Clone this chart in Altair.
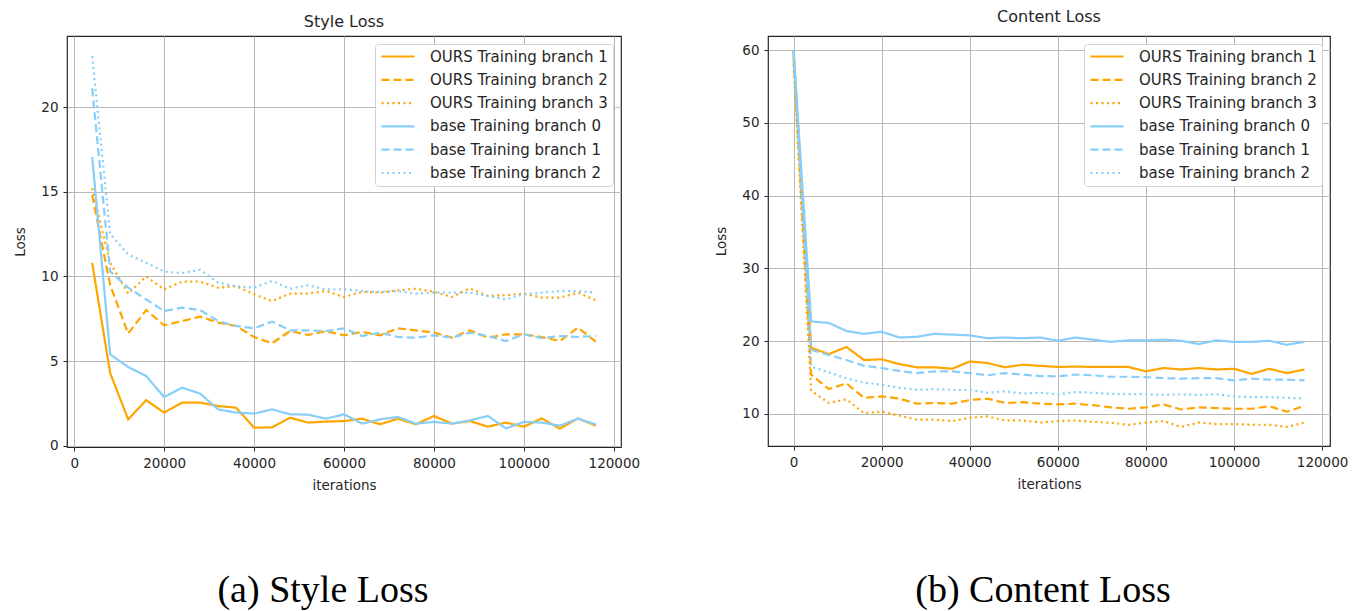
import altair as alt
import pandas as pd

# ---------------- data ----------------
SERIES = [
    "OURS Training branch 1",
    "OURS Training branch 2",
    "OURS Training branch 3",
    "base Training branch 0",
    "base Training branch 1",
    "base Training branch 2",
]
COLORS = ["#FFA500", "#FFA500", "#FFA500", "#87CEFA", "#87CEFA", "#87CEFA"]
DASHES = [[1, 0], [8, 4], [2, 3.5], [1, 0], [8, 4], [2, 3.5]]

style_iters = [4000, 8000, 12000, 16000, 20000, 24000, 28000, 32000, 36000, 40000,
               44000, 48000, 52000, 56000, 60000, 64000, 68000, 72000, 76000, 80000,
               84000, 88000, 92000, 96000, 100000, 104000, 108000, 112000, 116000]

style_ours1 = [10.8, 4.3, 1.57, 2.7, 1.97, 2.56, 2.56, 2.36, 2.26, 1.08, 1.1, 1.67, 1.38, 1.44, 1.47,
               1.61, 1.28, 1.61, 1.28, 1.77, 1.32, 1.47, 1.14, 1.38, 1.14, 1.63, 1.02, 1.63, 1.2]
style_ours2 = [14.8, 9.5, 6.63, 8.02, 7.12, 7.37, 7.63, 7.28, 7.08, 6.43, 6.06, 6.78, 6.55, 6.78, 6.53,
               6.73, 6.53, 6.94, 6.82, 6.69, 6.39, 6.82, 6.39, 6.59, 6.59, 6.43, 6.19, 6.98, 6.16]
style_ours3 = [15.2, 10.8, 8.99, 10.0, 9.24, 9.7, 9.7, 9.34, 9.43, 8.95, 8.55, 8.99, 8.99, 9.14, 8.79,
               9.09, 9.05, 9.18, 9.28, 9.1, 8.79, 9.3, 8.85, 8.9, 8.99, 8.75, 8.75, 9.05, 8.6]
style_base0 = [17.05, 5.4, 4.66, 4.13, 2.89, 3.44, 3.09, 2.16, 1.97, 1.91, 2.16, 1.87, 1.85, 1.61, 1.87,
               1.32, 1.57, 1.71, 1.32, 1.42, 1.32, 1.51, 1.77, 1.04, 1.42, 1.38, 1.2, 1.61, 1.28]
style_base1 = [21.1, 10.3, 9.34, 8.65, 7.96, 8.16, 8.02, 7.37, 7.08, 6.94, 7.34, 6.82, 6.82, 6.78, 6.94,
               6.49, 6.69, 6.43, 6.39, 6.53, 6.39, 6.69, 6.49, 6.19, 6.59, 6.36, 6.49, 6.43, 6.49]
style_base2 = [23.0, 12.5, 11.3, 10.8, 10.3, 10.2, 10.4, 9.64, 9.43, 9.34, 9.73, 9.28, 9.48, 9.24, 9.24,
               9.14, 9.09, 9.14, 8.99, 9.05, 9.05, 9.05, 8.85, 8.65, 8.95, 9.05, 9.14, 9.14, 9.05]

content_iters = [0, 4000, 8000, 12000, 16000, 20000, 24000, 28000, 32000, 36000, 40000,
                 44000, 48000, 52000, 56000, 60000, 64000, 68000, 72000, 76000, 80000,
                 84000, 88000, 92000, 96000, 100000, 104000, 108000, 112000, 116000]

content_ours1 = [60, 19.1, 18.2, 19.2, 17.4, 17.5, 16.85, 16.4, 16.4, 16.2, 17.2, 17.0, 16.4, 16.76, 16.6, 16.45,
                 16.5, 16.45, 16.45, 16.45, 15.85, 16.3, 16.1, 16.3, 16.1, 16.2, 15.5, 16.2, 15.6, 16.1]
content_ours2 = [59, 15.4, 13.4, 14.2, 12.2, 12.4, 12.1, 11.4, 11.5, 11.4, 11.9, 12.1, 11.5, 11.6, 11.4, 11.3,
                 11.4, 11.2, 10.9, 10.7, 10.9, 11.3, 10.6, 10.9, 10.8, 10.7, 10.7, 11.05, 10.3, 11.1]
content_ours3 = [58, 13.2, 11.5, 12.0, 10.1, 10.3, 9.75, 9.2, 9.2, 9.0, 9.45, 9.65, 9.1, 9.1, 8.8, 9.0,
                 9.1, 8.9, 8.77, 8.5, 8.8, 9.0, 8.2, 8.8, 8.6, 8.6, 8.5, 8.5, 8.2, 8.8]
content_base0 = [60, 22.7, 22.5, 21.4, 21.0, 21.3, 20.5, 20.6, 21.0, 20.9, 20.8, 20.4, 20.5, 20.4, 20.5, 20.05,
                 20.5, 20.2, 19.9, 20.1, 20.1, 20.2, 20.05, 19.6, 20.1, 19.9, 19.9, 20.05, 19.5, 19.9]
content_base1 = [60, 18.8, 18.1, 17.4, 16.6, 16.3, 15.9, 15.6, 15.85, 15.85, 15.6, 15.3, 15.6, 15.4, 15.2, 15.16,
                 15.4, 15.3, 15.1, 15.1, 15.05, 14.9, 14.85, 14.9, 14.9, 14.6, 14.85, 14.7, 14.7, 14.6]
content_base2 = [60, 16.5, 15.7, 14.9, 14.3, 14.0, 13.6, 13.3, 13.4, 13.3, 13.3, 12.9, 13.1, 12.8, 12.9, 12.7,
                 13.0, 12.9, 12.74, 12.7, 12.7, 12.6, 12.7, 12.6, 12.7, 12.4, 12.3, 12.3, 12.2, 12.1]

x_ticks = [0, 20000, 40000, 60000, 80000, 100000, 120000]
style_yticks = [0, 5, 10, 15, 20]
content_yticks = [10, 20, 30, 40, 50, 60]

FONT = "DejaVu Sans"
TXT = "#262626"


def long_df(iters, series_values):
    rows = []
    for name, vals in zip(SERIES, series_values):
        for it, v in zip(iters, vals):
            rows.append({"iterations": it, "loss": v, "series": name})
    return pd.DataFrame(rows)


def legend():
    return alt.Legend(
        title=None, orient="top-right", offset=8,
        symbolType="stroke", symbolSize=1089, symbolStrokeWidth=2.2,
        labelFont=FONT, labelFontSize=15, labelColor=TXT, labelLimit=400,
        labelOffset=14, fillColor="white", strokeColor="#d4d4d4",
        cornerRadius=3, padding=5, rowPadding=7.3, clipHeight=15,
    )


def panel(df, title, title_offset, xdom, ydom, yticks, width, height, caption, cap_x, cap_y):
    lines = alt.Chart(df).mark_line(strokeWidth=2.2).encode(
        x=alt.X("iterations:Q",
                scale=alt.Scale(domain=xdom, nice=False, zero=False),
                axis=alt.Axis(values=x_ticks, format="d", title="iterations")),
        y=alt.Y("loss:Q",
                scale=alt.Scale(domain=ydom, nice=False, zero=False),
                axis=alt.Axis(values=yticks, format="d", title="Loss")),
        color=alt.Color("series:N", scale=alt.Scale(domain=SERIES, range=COLORS),
                        sort=SERIES, legend=legend()),
        strokeDash=alt.StrokeDash("series:N", scale=alt.Scale(domain=SERIES, range=DASHES),
                                  sort=SERIES, legend=legend()),
    )
    cap = alt.Chart(pd.DataFrame({"caption": [caption]})).mark_text(
        font="Liberation Serif", fontSize=38, color="black",
        align="center", baseline="middle",
    ).encode(text="caption:N", x=alt.value(cap_x), y=alt.value(cap_y))
    return alt.layer(lines, cap).properties(
        width=width, height=height,
        title=alt.TitleParams(title, font=FONT, fontSize=16, fontWeight="normal",
                              color=TXT, offset=title_offset, anchor="middle"),
    )


style_df = long_df(style_iters, [style_ours1, style_ours2, style_ours3,
                                 style_base0, style_base1, style_base2])
content_df = long_df(content_iters, [content_ours1, content_ours2, content_ours3,
                                     content_base0, content_base1, content_base2])

left = panel(style_df, "Style Loss", 6, [-1600, 121600], [-0.06, 24.19], style_yticks,
             554, 411, "(a) Style Loss", 256, 555)
right = panel(content_df, "Content Loss", 11, [-5800, 121800], [5.58, 61.96], content_yticks,
              562, 410, "(b) Content Loss", 275, 555)

chart = alt.hconcat(left, right, spacing=73).resolve_scale(
    color="independent", strokeDash="independent", x="independent", y="independent"
).resolve_legend(
    color="independent", strokeDash="independent"
).properties(
    padding={"left": 5, "top": 0, "right": 5, "bottom": 0},
    background="white",
).configure_view(
    stroke="#262626", strokeWidth=1.2
).configure_axis(
    domain=False, grid=True, gridColor="#b8b8b8", gridWidth=1,
    tickColor="#262626", tickSize=4, tickWidth=1,
    labelFont=FONT, labelFontSize=13.5, labelColor=TXT, labelPadding=5,
    titleFont=FONT, titleFontSize=13.5, titleFontWeight="normal", titleColor=TXT,
).configure_axisX(
    titlePadding=9
).configure_axisY(
    titlePadding=13
)

chart.save("out.html", embed_options={"renderer": "svg", "actions": False})
